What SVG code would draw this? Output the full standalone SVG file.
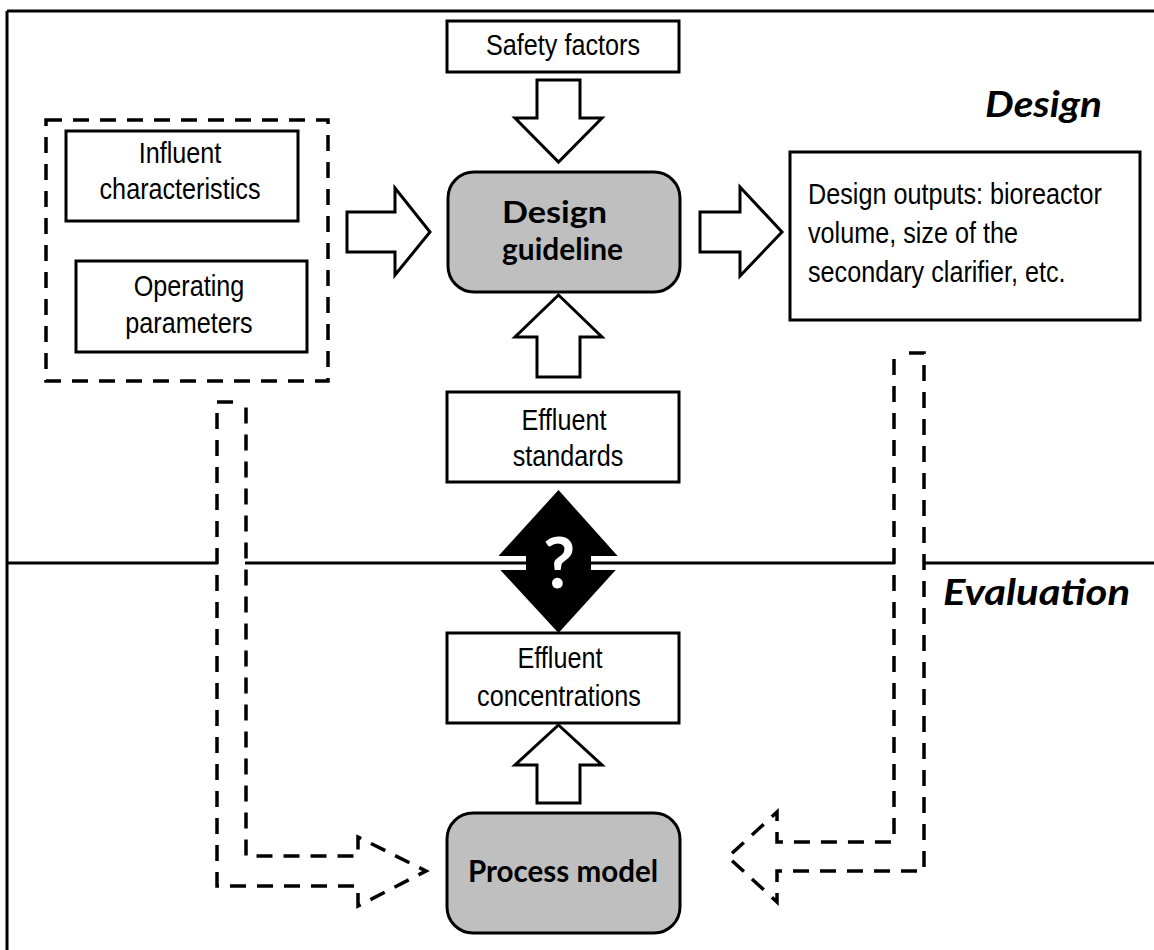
<svg xmlns="http://www.w3.org/2000/svg" width="1154" height="950" viewBox="0 0 1154 950">
  <defs>
    <style>
      .frame { fill: none; stroke: #000; stroke-width: 3; }
      .box { fill: #fff; stroke: #000; stroke-width: 3; }
      .core { fill: #bfbfbf; stroke: #000; stroke-width: 3; }
      .block { fill: #fff; stroke: #000; stroke-width: 3; stroke-linejoin: miter; }
      .dash { fill: none; stroke: #000; stroke-width: 3.5; stroke-dasharray: 16 11; }
      .narrow { font-family: "Liberation Sans", Arial, sans-serif; font-size: 30px; fill: #000; }
      .bold { font-family: Lato, "Open Sans", sans-serif; font-weight: bold; font-size: 30px; fill: #000; }
      .phase { font-family: Lato, "Open Sans", sans-serif; font-weight: bold; font-style: italic; font-size: 36px; fill: #000; }
    </style>
  </defs>

  <rect width="1154" height="950" fill="#fff"/>

  <!-- outer frame (top and left edges) -->
  <path class="frame" d="M7,11 H1154 M7,11 V950"/>

  <!-- phase labels -->
  <text class="phase" x="985" y="117" textLength="117" lengthAdjust="spacingAndGlyphs">Design</text>
  <text class="phase" x="943" y="605" textLength="187" lengthAdjust="spacingAndGlyphs">Evaluation</text>

  <!-- inputs group -->
  <g id="inputs">
    <rect class="dash" x="46" y="120" width="282" height="261"/>
    <g id="influent">
      <rect class="box" x="66" y="131" width="232" height="90"/>
      <text class="narrow" transform="translate(180,163) scale(0.84,1)" text-anchor="middle">Influent</text>
      <text class="narrow" transform="translate(180,199) scale(0.84,1)" text-anchor="middle">characteristics</text>
    </g>
    <g id="operating">
      <rect class="box" x="76" y="261" width="231" height="91"/>
      <text class="narrow" transform="translate(189,296) scale(0.84,1)" text-anchor="middle">Operating</text>
      <text class="narrow" transform="translate(189,333) scale(0.84,1)" text-anchor="middle">parameters</text>
    </g>
  </g>

  <g id="safety">
    <rect class="box" x="447" y="21" width="232" height="51"/>
    <text class="narrow" transform="translate(563,55) scale(0.84,1)" text-anchor="middle">Safety factors</text>
  </g>

  <g id="guideline">
    <rect class="core" x="448" y="172" width="232" height="120" rx="26" ry="26"/>
    <text class="bold" x="502" y="223" textLength="105" lengthAdjust="spacingAndGlyphs">Design</text>
    <text class="bold" x="502" y="260" textLength="121" lengthAdjust="spacingAndGlyphs">guideline</text>
  </g>

  <g id="outputs">
    <rect class="box" x="790" y="152" width="350" height="168"/>
    <text class="narrow" transform="translate(808,204) scale(0.84,1)">Design outputs: bioreactor</text>
    <text class="narrow" transform="translate(808,243) scale(0.84,1)">volume, size of the</text>
    <text class="narrow" transform="translate(808,282) scale(0.84,1)">secondary clarifier, etc.</text>
  </g>

  <g id="standards">
    <rect class="box" x="447" y="392" width="232" height="90"/>
    <text class="narrow" transform="translate(564,430) scale(0.84,1)" text-anchor="middle">Effluent</text>
    <text class="narrow" transform="translate(568,466) scale(0.84,1)" text-anchor="middle">standards</text>
  </g>

  <g id="concentrations">
    <rect class="box" x="447" y="633" width="232" height="90"/>
    <text class="narrow" transform="translate(560,668) scale(0.84,1)" text-anchor="middle">Effluent</text>
    <text class="narrow" transform="translate(559,706) scale(0.84,1)" text-anchor="middle">concentrations</text>
  </g>

  <g id="process-model">
    <rect class="core" x="447" y="813" width="233" height="120" rx="26" ry="26"/>
    <text class="bold" x="468" y="882" textLength="190" lengthAdjust="spacingAndGlyphs">Process model</text>
  </g>

  <!-- comparison diamond split by the phase divider -->
  <g id="compare">
    <polygon points="558.5,490 623,562 558.5,633 493,562" fill="#000"/>
    <rect x="490" y="556" width="36" height="14" fill="#fff"/>
    <rect x="591" y="556" width="36" height="14" fill="#fff"/>
    <text x="559" y="588" text-anchor="middle" font-family="Lato, 'Open Sans', sans-serif" font-weight="bold" font-size="70" fill="#fff">?</text>
  </g>

  <!-- phase divider -->
  <path class="frame" d="M7,563 H218 M245,563 H526 M591,563 H895 M923,563 H1154"/>

  <g id="connectors">
    <polygon class="block" points="537,80 580,80 580,118 602,118 558.5,162 515,118 537,118"/>
    <polygon class="block" points="558.5,295 602,337 580,337 580,377 537,377 537,337 515,337"/>
    <polygon class="block" points="558.5,725 602,765 580,765 580,803 537,803 537,765 515,765"/>
    <polygon class="block" points="347,212 395,212 395,188 430,232 395,275 395,252 347,252"/>
    <polygon class="block" points="700,212 740,212 740,187 782,232 740,276 740,252 700,252"/>
    <path class="dash" d="M233,402 H217 V886 H358 V906 L426,871 L358,837 V856 H246 V400"/>
    <path class="dash" d="M909,353 H924 V871 H777 V902 L728,857 L777,812 V842 H894 V352"/>
  </g>
</svg>
